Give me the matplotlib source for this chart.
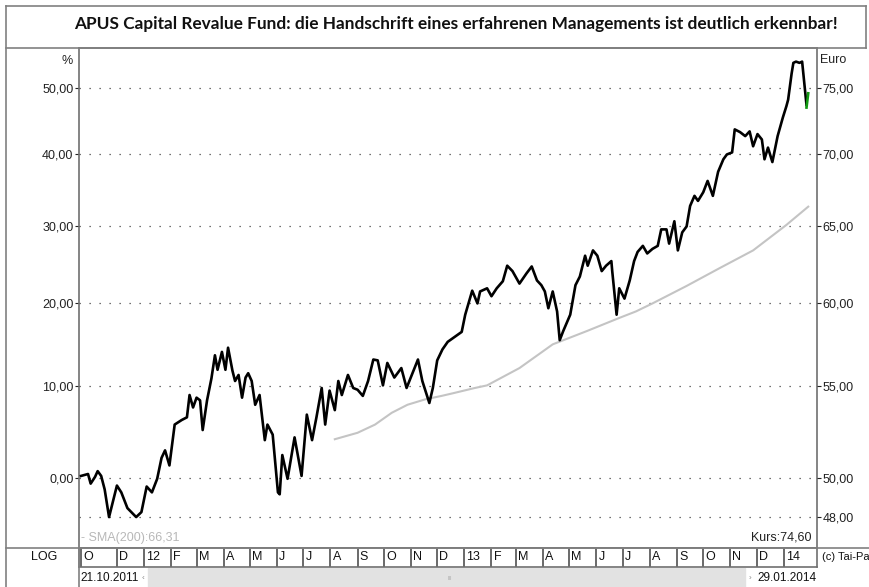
import matplotlib.pyplot as plt
import matplotlib.dates as mdates
from matplotlib.lines import Line2D
from matplotlib.patches import Rectangle
from matplotlib.ticker import NullLocator
from datetime import datetime

W, H = 869, 587
base = 50.0  # Euro value at 0 %

title = 'APUS Capital Revalue Fund: die Handschrift eines erfahrenen Managements ist deutlich erkennbar!'

price_dates = [
    '2011-10-21', '2011-10-29', '2011-11-01', '2011-11-06', '2011-11-09', '2011-11-13', '2011-11-17',
    '2011-11-22', '2011-12-01', '2011-12-06', '2011-12-13', '2011-12-23', '2011-12-29', '2012-01-04',
    '2012-01-10', '2012-01-16', '2012-01-21', '2012-01-25', '2012-01-30', '2012-02-05', '2012-02-13',
    '2012-02-19', '2012-02-22', '2012-02-26', '2012-03-01', '2012-03-05', '2012-03-08', '2012-03-13',
    '2012-03-18', '2012-03-22', '2012-03-25', '2012-03-30', '2012-04-03', '2012-04-06', '2012-04-11',
    '2012-04-14', '2012-04-18', '2012-04-22', '2012-04-26', '2012-04-29', '2012-05-03', '2012-05-07',
    '2012-05-12', '2012-05-18', '2012-05-21', '2012-05-27', '2012-06-02', '2012-06-04', '2012-06-07',
    '2012-06-13', '2012-06-21', '2012-06-29', '2012-07-05', '2012-07-11', '2012-07-16', '2012-07-22',
    '2012-07-26', '2012-07-31', '2012-08-06', '2012-08-10', '2012-08-14', '2012-08-21', '2012-08-27',
    '2012-09-01', '2012-09-07', '2012-09-13', '2012-09-19', '2012-09-24', '2012-09-30', '2012-10-05',
    '2012-10-13', '2012-10-21', '2012-10-27', '2012-11-02', '2012-11-09', '2012-11-14', '2012-11-20',
    '2012-11-22', '2012-11-26', '2012-12-01', '2012-12-07', '2012-12-13', '2012-12-21', '2012-12-29',
    '2013-01-02', '2013-01-10', '2013-01-16', '2013-01-19', '2013-01-27', '2013-02-01', '2013-02-07',
    '2013-02-14', '2013-02-19', '2013-02-25', '2013-03-05', '2013-03-13', '2013-03-19', '2013-03-25',
    '2013-03-30', '2013-04-03', '2013-04-07', '2013-04-12', '2013-04-17', '2013-04-20', '2013-04-24',
    '2013-05-02', '2013-05-08', '2013-05-13', '2013-05-19', '2013-05-22', '2013-05-28', '2013-06-02',
    '2013-06-07', '2013-06-12', '2013-06-18', '2013-06-19', '2013-06-24', '2013-06-27', '2013-07-03',
    '2013-07-09', '2013-07-14', '2013-07-18', '2013-07-24', '2013-07-29', '2013-08-04', '2013-08-10',
    '2013-08-14', '2013-08-20', '2013-08-23', '2013-08-29', '2013-09-02', '2013-09-07', '2013-09-12',
    '2013-09-16', '2013-09-21', '2013-09-25', '2013-10-01', '2013-10-06', '2013-10-12', '2013-10-18',
    '2013-10-24', '2013-10-28', '2013-11-03', '2013-11-06', '2013-11-12', '2013-11-18', '2013-11-23',
    '2013-11-27', '2013-12-02', '2013-12-07', '2013-12-10', '2013-12-14', '2013-12-19', '2013-12-25',
    '2013-12-31', '2014-01-04', '2014-01-06', '2014-01-10', '2014-01-12', '2014-01-15', '2014-01-19',
    '2014-01-22', '2014-01-23', '2014-01-25', '2014-01-27',
]
price_pct = [
    0.2, 0.4, -0.6, 0.1, 0.7, 0.2, -1.2,
    -4.0, -0.8, -1.5, -3.1, -4.0, -3.5, -0.9,
    -1.5, -0.1, 2.1, 2.9, 1.3, 5.7, 6.2,
    6.5, 9.0, 7.6, 8.7, 8.4, 5.1, 8.4,
    10.9, 13.6, 11.9, 14.0, 11.9, 14.5, 11.8,
    10.6, 11.3, 8.7, 11.0, 11.5, 10.6, 7.9,
    9.0, 4.0, 5.7, 4.6, -1.5, -1.7, 2.4,
    -0.1, 4.3, 0.2, 6.8, 4.0, 6.5, 9.8,
    5.7, 9.5, 7.3, 10.6, 9.0, 11.3, 9.8,
    9.6, 8.9, 10.6, 13.1, 13.0, 10.1, 12.7,
    11.0, 12.1, 9.8, 11.3, 13.1, 10.6, 8.7,
    8.1, 9.8, 13.0, 14.3, 15.2, 15.8, 16.4,
    18.5, 21.5, 19.9, 21.4, 21.8, 20.8, 21.8,
    22.7, 24.7, 24.0, 22.4, 23.7, 24.6, 22.8,
    22.2, 21.4, 19.3, 21.4, 18.9, 15.4, 16.5,
    18.5, 22.2, 23.3, 26.0, 24.7, 26.7, 26.0,
    24.0, 24.7, 25.3, 24.0, 18.5, 21.8, 20.5,
    22.8, 25.3, 26.5, 27.3, 26.3, 26.9, 27.3,
    29.5, 29.5, 27.6, 30.6, 26.7, 29.1, 29.9,
    32.7, 34.1, 33.4, 34.6, 36.2, 34.1, 37.5,
    39.3, 40.0, 40.3, 43.7, 43.3, 42.7, 43.4,
    41.2, 43.0, 42.2, 39.3, 41.0, 38.9, 42.7,
    45.5, 47.2, 48.2, 52.3, 54.0, 54.2, 54.0,
    54.2, 52.8, 50.1, 47.4,
]
last_dates = ['2014-01-27', '2014-01-29']
last_pct = [47.0, 49.2]

sma_dates = [
    '2012-08-06', '2012-09-01', '2012-09-21', '2012-10-10', '2012-10-28', '2012-11-17', '2012-12-06',
    '2012-12-19', '2013-01-13', '2013-01-27', '2013-03-05', '2013-04-12', '2013-05-21', '2013-06-27',
    '2013-07-16', '2013-08-04', '2013-09-12', '2013-10-20', '2013-11-27', '2014-01-04', '2014-01-29',
]
sma_pct = [
    4.1, 4.8, 5.7, 7.0, 7.9, 8.5, 8.9,
    9.2, 9.8, 10.1, 12.1, 14.9, 16.5, 18.1,
    18.9, 19.9, 22.1, 24.4, 26.7, 30.1, 32.6,
]

pct_ticks = [0, 10, 20, 30, 40, 50]
euro_ticks = [48, 50, 55, 60, 65, 70, 75]

month_starts = [
    '2011-10-21', '2011-12-01', '2012-01-01', '2012-02-01', '2012-03-01', '2012-04-01', '2012-05-01',
    '2012-06-01', '2012-07-01', '2012-08-01', '2012-09-01', '2012-10-01', '2012-11-01', '2012-12-01',
    '2013-01-01', '2013-02-01', '2013-03-01', '2013-04-01', '2013-05-01', '2013-06-01', '2013-07-01',
    '2013-08-01', '2013-09-01', '2013-10-01', '2013-11-01', '2013-12-01', '2014-01-01',
]
month_labels = ['O', 'D', '12', 'F', 'M', 'A', 'M', 'J', 'J', 'A', 'S', 'O', 'N', 'D',
                '13', 'F', 'M', 'A', 'M', 'J', 'J', 'A', 'S', 'O', 'N', 'D', '14']


def to_dt(strings):
    return [datetime.strptime(s, '%Y-%m-%d') for s in strings]


def fx(px):
    return px / W


def fy(py):
    return 1 - py / H


plt.rcParams['font.family'] = ['Liberation Sans', 'DejaVu Sans']

fig = plt.figure(figsize=(W / 100, H / 100), dpi=100)
fig.patch.set_facecolor('white')

x0, x1, ytop, ybot = 79, 817, 48, 548
xlim = (datetime(2011, 10, 18, 16), datetime(2014, 2, 8))
ylim = (46.48, 78.2)

ax = fig.add_axes([fx(x0), fy(ybot), (x1 - x0) / W, (ybot - ytop) / H])
ax.set_yscale('log')

for e in euro_ticks:
    ax.axhline(e, color='#444444', lw=0.9, ls=(0, (1, 7)), zorder=1)

ax.plot(to_dt(sma_dates), [base * (1 + p / 100) for p in sma_pct],
        color='#c4c4c4', lw=1.5, zorder=2)
ax.plot(to_dt(price_dates), [base * (1 + p / 100) for p in price_pct],
        color='black', lw=1.9, zorder=3)
ax.plot(to_dt(last_dates), [base * (1 + p / 100) for p in last_pct],
        color='#119911', lw=1.9, zorder=4)

ax.set_xlim(*xlim)
ax.set_ylim(*ylim)
ax.set_xticks([])
ax.yaxis.set_minor_locator(NullLocator())
ax.set_yticks([base * (1 + p / 100) for p in pct_ticks])
ax.set_yticklabels([f'{p:.2f}'.replace('.', ',') for p in pct_ticks])
ax.tick_params(axis='y', length=3, pad=1, labelsize=9, colors='#222222')
for s in ax.spines.values():
    s.set_color('#707070')
    s.set_linewidth(1.2)

ax2 = ax.twinx()
ax2.set_yscale('log')
ax2.set_ylim(*ylim)
ax2.yaxis.set_minor_locator(NullLocator())
ax2.set_yticks(euro_ticks)
ax2.set_yticklabels([f'{e:.2f}'.replace('.', ',') for e in euro_ticks])
ax2.tick_params(axis='y', length=3, pad=1, labelsize=9, colors='#222222')
for s in ax2.spines.values():
    s.set_visible(False)

ax.text(0.003, 0.02, '- SMA(200):66,31', transform=ax.transAxes, fontsize=9,
        color='#b8b8b8', ha='left', va='center')
ax.text(0.993, 0.02, 'Kurs:74,60', transform=ax.transAxes, fontsize=9,
        color='#222222', ha='right', va='center')

# month band
axb = fig.add_axes([fx(x0), fy(567), (x1 - x0) / W, (567 - ybot) / H])
axb.set_xlim(*xlim)
axb.set_ylim(0, 1)
axb.set_xticks([])
axb.set_yticks([])
for s in axb.spines.values():
    s.set_color('#707070')
    s.set_linewidth(1.2)
for d, lab in zip(to_dt(month_starts), month_labels):
    axb.axvline(d, color='#505050', lw=1.2)
    axb.annotate(lab, (mdates.date2num(d), 0.5), xytext=(1.5, 0), textcoords='offset points',
                 ha='left', va='center', fontsize=9, color='#111111')

# scroll bar
axs = fig.add_axes([fx(x0), 0, (x1 - x0) / W, (H - 568) / H])
axs.set_xlim(0, 1)
axs.set_ylim(0, 1)
axs.axis('off')
axs.add_patch(Rectangle((0.093, 0.0), 0.81, 1.0, color='#e2e2e2'))
axs.text(0.002, 0.45, '21.10.2011', fontsize=8.5, ha='left', va='center', color='#111111')
axs.text(0.999, 0.45, '29.01.2014', fontsize=8.5, ha='right', va='center', color='#111111')
axs.text(0.087, 0.45, '\u2039', fontsize=6, ha='center', va='center', color='#888888')
axs.text(0.909, 0.45, '\u203a', fontsize=6, ha='center', va='center', color='#888888')
axs.text(0.503, 0.45, 'III', fontsize=4, ha='center', va='center', color='#aaaaaa')

# title and side texts
fig.text(fx(456), fy(24), title, ha='center', va='center', fontsize=12.4,
         fontweight='bold', family='Lato', color='#111111')
fig.text(fx(73), fy(61), '%', ha='right', va='center', fontsize=9, color='#222222')
fig.text(fx(820), fy(60), 'Euro', ha='left', va='center', fontsize=9, color='#222222')
fig.text(fx(44), fy(557), 'LOG', ha='center', va='center', fontsize=9, color='#111111')
fig.text(fx(822), fy(557), '(c) Tai-Pa', ha='left', va='center', fontsize=8, color='#111111')

# frame lines
frame = [
    ((6, 6), (6, 587)),
    ((6, 866), (6, 6)),
    ((866, 866), (6, 48)),
    ((6, 866), (48, 48)),
    ((6, 869), (548, 548)),
    ((79, 79), (548, 587)),
]
for xs, ys in frame:
    fig.add_artist(Line2D([fx(v) for v in xs], [fy(v) for v in ys], color='#808080', lw=1.2))

fig.savefig('out.png', dpi=100)
